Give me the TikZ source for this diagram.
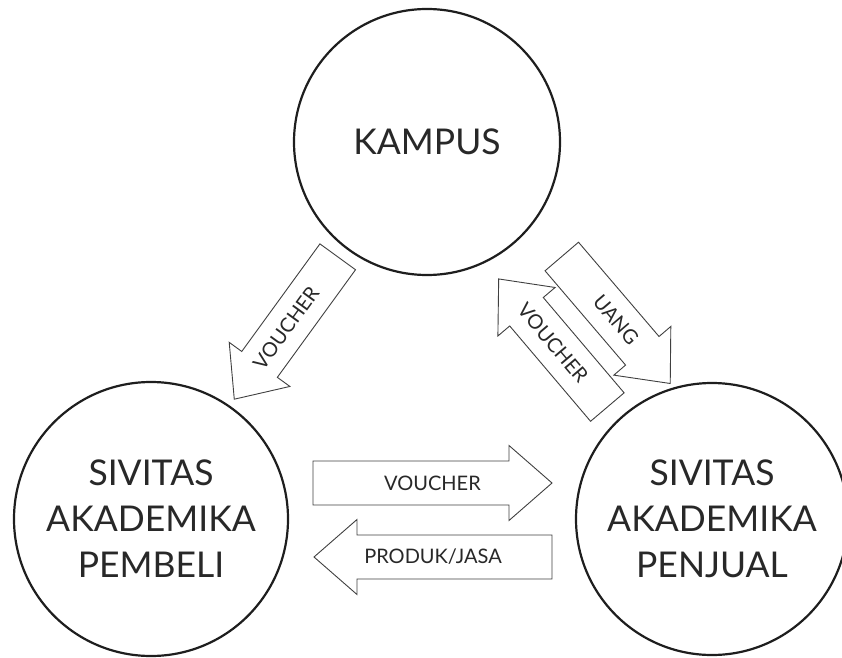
\documentclass[tikz,border=0pt]{standalone}
\usepackage{fontspec}
\setmainfont{Lato}
\usepackage{tikz}
\usetikzlibrary{positioning}
\definecolor{ink}{RGB}{30,30,30}
\definecolor{txt}{RGB}{40,40,40}

% block arrow: name, centre, angle, length, text angle, text
\newcommand{\blockarrow}[6]{%
  \begin{scope}[shift={#2},rotate=#3]
    \draw[arrowline] ({-#4/2},-22) -- ({#4/2-43},-22) -- ({#4/2-43},-37.5)
      -- ({#4/2},0) -- ({#4/2-43},37.5) -- ({#4/2-43},22) -- ({-#4/2},22) -- cycle;
  \end{scope}
  \node[lbl,rotate=#5] (#1) at #2 {#6};}

\begin{document}
\begin{tikzpicture}[x=1pt,y=1pt,
  party/.style={circle,draw=ink,line width=2.2pt,align=center,text=txt,
    font=\fontsize{35.5}{46}\selectfont,inner sep=0pt},
  arrowline/.style={draw=ink!85,line width=0.9pt,fill=white,line join=miter},
  lbl/.style={font=\fontsize{20}{22}\selectfont,text=txt,inner sep=0pt}]
  \useasboundingbox (0,0) rectangle (842,657);
  % parties
  \node[party,minimum size=266pt] (kampus) at (427,515) {KAMPUS};
  \node[party,minimum size=274pt] (pembeli) at (151,138) {SIVITAS\\AKADEMIKA\\PEMBELI};
  \node[party,minimum size=272pt] (penjual) at (712,138) {SIVITAS\\AKADEMIKA\\PENJUAL};
  % flows
  \blockarrow{vkp}{(286,329)}{234}{176}{54}{VOUCHER}
  \blockarrow{uang}{(616,337)}{-49.5}{167}{-49.5}{UANG}
  \blockarrow{vjk}{(553,314)}{130.3}{168}{-49.7}{VOUCHER}
  \blockarrow{vpj}{(432.5,174)}{0}{239}{0}{VOUCHER}
  \blockarrow{prod}{(433,100)}{180}{238}{0}{PRODUK/JASA}
\end{tikzpicture}
\end{document}
